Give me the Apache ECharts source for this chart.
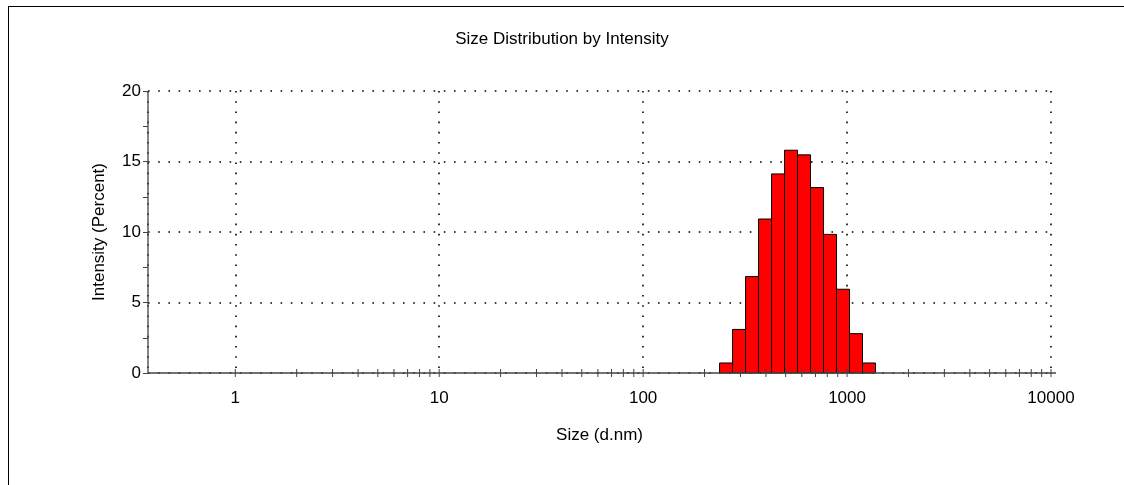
<!DOCTYPE html>
<html><head><meta charset="utf-8">
<script src="https://cdn.jsdelivr.net/npm/echarts@6/dist/echarts.min.js"></script>
<style>
html,body{margin:0;padding:0;background:#fff;width:1124px;height:485px;overflow:hidden;}
#frame{position:absolute;left:8px;top:6px;right:0;bottom:0;border-left:1px solid #000;border-top:1px solid #000;}
#chart{position:absolute;left:0;top:0;width:1124px;height:485px;}
</style></head><body>
<div id="frame"></div>
<div id="chart"></div>
<script>
// Size classes (d.nm, bin centres) and intensity (%)
const sizes = [255.0, 295.3, 342.0, 396.1, 458.7, 531.2, 615.1, 712.4, 825.0, 955.4, 1106, 1281];
const intensity = [0.71, 3.09, 6.84, 10.92, 14.12, 15.80, 15.47, 13.15, 9.83, 5.94, 2.79, 0.71];
const xTickLabels = ['1', '10', '100', '1000', '10000'];
const yTickLabels = ['0', '5', '10', '15', '20'];
const sizeMin = 0.4, sizeMax = 10000, nClasses = 70;

const binLogWidth = Math.log10(sizeMax / sizeMin) / (nClasses - 1);
const halfFactor = Math.pow(10, binLogWidth / 2);

// tick values for the log axis (majors + 2..9 minors), from the labels
const tickVals = [];
xTickLabels.forEach(function (l, i) {
  const v = Number(l);
  tickVals.push([v, 1]);
  if (i < xTickLabels.length - 1) {
    for (let m = 2; m <= 9; m++) tickVals.push([v * m, 0]);
  }
});

const FONT = '"Liberation Sans", Arial, sans-serif';
const AXIS_COLOR = '#444';
const chart = echarts.init(document.getElementById('chart'), null, {renderer: 'canvas'});
const dotted = {color: '#000', width: 1.6, type: [1.6, 8.6]};

chart.setOption({
  animation: false,
  backgroundColor: 'transparent',
  title: {
    text: 'Size Distribution by Intensity',
    left: 'center', top: 26,
    textStyle: {fontFamily: FONT, fontSize: 17, fontWeight: 'normal', color: '#000'}
  },
  grid: {left: 148, right: 73, top: 91, bottom: 112, containLabel: false},
  xAxis: {
    type: 'log', logBase: 10,
    min: Math.pow(10, -0.428), max: Number(xTickLabels[xTickLabels.length - 1]),
    name: 'Size (d.nm)', nameLocation: 'middle', nameGap: 54,
    nameTextStyle: {fontFamily: FONT, fontSize: 17, color: '#000'},
    axisLine: {show: false},
    axisTick: {show: false},
    axisLabel: {
      margin: 17, fontFamily: FONT, fontSize: 17, color: '#000',
      formatter: function (v) {
        const s = String(Math.round(v));
        return (xTickLabels.indexOf(s) >= 0 && Math.abs(v - Math.round(v)) < 1e-6) ? s : '';
      }
    },
    splitLine: {show: true, lineStyle: dotted}
  },
  yAxis: {
    type: 'value', min: 0, max: Number(yTickLabels[yTickLabels.length - 1]), interval: 5,
    name: 'Intensity (Percent)', nameLocation: 'middle', nameGap: 40, nameRotate: 90,
    nameTextStyle: {fontFamily: FONT, fontSize: 17, color: '#000'},
    axisLine: {show: false},
    axisTick: {show: true, length: 5, lineStyle: {color: AXIS_COLOR}},
    minorTick: {show: true, splitNumber: 2, length: 5, lineStyle: {color: AXIS_COLOR}},
    axisLabel: {margin: 7, fontFamily: FONT, fontSize: 17, color: '#000'},
    splitLine: {show: true, lineStyle: dotted}
  },
  series: [
    {
      type: 'custom', name: 'axes', clip: false, silent: true, z: 6,
      data: [[1, 0]],
      renderItem: function (params, api) {
        const cs = params.coordSys;
        const yb = cs.y + cs.height;
        return {type: 'group', children: [
          {type: 'line', shape: {x1: cs.x, y1: yb, x2: cs.x + cs.width + 5, y2: yb},
            style: {stroke: AXIS_COLOR, lineWidth: 1.3}},
          {type: 'line', shape: {x1: cs.x, y1: cs.y, x2: cs.x, y2: yb},
            style: {stroke: AXIS_COLOR, lineWidth: 1.3}}
        ]};
      }
    },
    {
      type: 'custom', name: 'ticks', clip: false, silent: true, z: 5,
      data: tickVals,
      renderItem: function (params, api) {
        const p = api.coord([api.value(0), 0]);
        return {type: 'line', shape: {x1: p[0], y1: p[1] - 4, x2: p[0], y2: p[1] + 4},
          style: {stroke: AXIS_COLOR, lineWidth: 1}};
      }
    },
    {
      type: 'custom', name: 'Intensity', clip: false, z: 3,
      data: sizes.map(function (s, i) { return [s, intensity[i]]; }),
      encode: {x: 0, y: 1},
      renderItem: function (params, api) {
        const c = api.value(0), v = api.value(1);
        const p0 = api.coord([c / halfFactor, 0]);
        const p1 = api.coord([c * halfFactor, v]);
        return {type: 'rect',
          shape: {x: p0[0], y: p1[1], width: p1[0] - p0[0], height: p0[1] - p1[1]},
          style: {fill: '#ff0000', stroke: '#000', lineWidth: 1}};
      }
    }
  ]
});
</script>
</body></html>
